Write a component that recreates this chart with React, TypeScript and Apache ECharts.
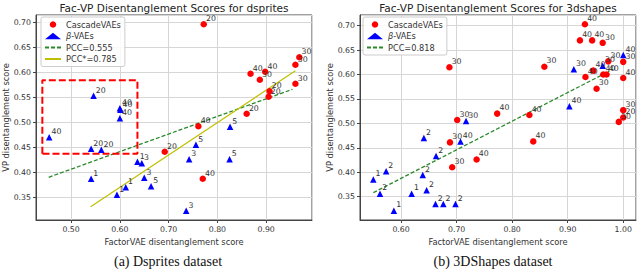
import React, { useEffect, useRef } from "react";
import * as echarts from "echarts";

// ---------- Data ----------
// [FactorVAE score, VP score, label]
const leftCascade: [number, number, string][] = [
  [0.772, 0.696, "20"],
  [0.968, 0.63, "30"],
  [0.96, 0.615, "30"],
  [0.868, 0.597, "40"],
  [0.898, 0.601, "40"],
  [0.887, 0.585, "30"],
  [0.96, 0.577, "30"],
  [0.907, 0.562, "20"],
  [0.905, 0.551, "20"],
  [0.86, 0.517, "20"],
  [0.761, 0.492, "40"],
  [0.692, 0.441, "20"],
  [0.77, 0.387, "40"],
];
const leftBeta: [number, number, string][] = [
  [0.546, 0.553, "20"],
  [0.6, 0.528, "40"],
  [0.601, 0.525, "40"],
  [0.6, 0.508, "40"],
  [0.455, 0.47, "40"],
  [0.541, 0.447, "20"],
  [0.562, 0.445, "20"],
  [0.636, 0.421, "1"],
  [0.645, 0.418, "3"],
  [0.541, 0.387, "1"],
  [0.612, 0.37, "1"],
  [0.594, 0.355, "1"],
  [0.65, 0.389, "3"],
  [0.664, 0.372, "5"],
  [0.742, 0.426, "3"],
  [0.756, 0.455, "5"],
  [0.825, 0.426, "5"],
  [0.736, 0.323, "3"],
  [0.826, 0.491, "5"],
];
const leftPcc: [number, number][] = [
  [0.454, 0.39],
  [0.954, 0.566],
];
const leftPccStar: [number, number][] = [
  [0.54, 0.331],
  [0.96, 0.603],
];
const boxX = [0.441, 0.636];
const boxY = [0.437, 0.584];

const rightCascade: [number, number, string][] = [
  [0.687, 0.615, "30"],
  [0.701, 0.507, "30"],
  [0.773, 0.52, "40"],
  [0.831, 0.517, "40"],
  [0.858, 0.616, "30"],
  [0.931, 0.703, "40"],
  [0.922, 0.67, "40"],
  [0.944, 0.67, "40"],
  [0.963, 0.665, "30"],
  [0.973, 0.627, "30"],
  [0.932, 0.595, "40"],
  [0.946, 0.608, "40"],
  [0.964, 0.6, "40"],
  [0.97, 0.6, "40"],
  [0.952, 0.571, "30"],
  [1.0, 0.626, "30"],
  [1.0, 0.593, "40"],
  [1.0, 0.527, "30"],
  [1.0, 0.512, "20"],
  [0.992, 0.503, "30"],
  [0.688, 0.461, "30"],
  [0.838, 0.463, "40"],
  [0.736, 0.426, "40"],
  [0.692, 0.41, "30"],
];
const rightBeta: [number, number, string][] = [
  [0.717, 0.505, "30"],
  [0.911, 0.611, "30"],
  [0.963, 0.618, "30"],
  [1.0, 0.64, "40"],
  [0.903, 0.535, "40"],
  [0.707, 0.463, "40"],
  [0.641, 0.47, "2"],
  [0.663, 0.433, "2"],
  [0.639, 0.394, "2"],
  [0.573, 0.402, "2"],
  [0.55, 0.385, "1"],
  [0.562, 0.356, "2"],
  [0.619, 0.356, "1"],
  [0.646, 0.363, "2"],
  [0.587, 0.321, "1"],
  [0.662, 0.335, "2"],
  [0.676, 0.335, "2"],
  [0.698, 0.335, "2"],
];
const rightPcc: [number, number][] = [
  [0.55, 0.358],
  [0.975, 0.607],
];

const titles = [
  "Fac-VP Disentanglement Scores for dsprites",
  "Fac-VP Disentanglement Scores for 3dshapes",
];
const captions = ["(a) Dsprites dataset", "(b) 3DShapes dataset"];
const xName = "FactorVAE disentanglement score";
const yName = "VP disentanglement score";

// ---------- Styling ----------
const FONT = "DejaVu Sans";
const FS = 7.8;
const NAME_FS = 8.3;
const LEG_FS = 8.2;
const RED = "#ff0000";
const BLUE = "#0000ff";
const GREEN = "#2a8a2a";
const YELLOW = "#bfbf00";
const AXIS = "#444";

const scatterLabel = {
  show: true,
  formatter: (p: any) => p.value[2],
  position: "right",
  distance: 0,
  offset: [-1, -5.8],
  fontSize: FS,
  fontFamily: FONT,
  color: "#333",
};

function axisLabel() {
  return {
    fontSize: FS,
    fontFamily: FONT,
    color: "#333",
    margin: 5,
    showMinLabel: false,
    showMaxLabel: false,
    formatter: (v: number) => v.toFixed(2),
  };
}

function makeX(idx: number, min: number, max: number) {
  return {
    type: "value",
    gridIndex: idx,
    min,
    max,
    splitNumber: 5,
    name: xName,
    nameLocation: "middle",
    nameGap: 14.5,
    nameTextStyle: { fontSize: NAME_FS, fontFamily: FONT, color: "#333" },
    axisLine: { show: true, lineStyle: { color: AXIS, width: 1 } },
    axisTick: { show: true, length: 3, lineStyle: { color: AXIS } },
    axisLabel: axisLabel(),
    splitLine: { show: true, lineStyle: { color: "#d6d6d6", width: 1 } },
  };
}
function makeY(idx: number, min: number, max: number) {
  return {
    type: "value",
    gridIndex: idx,
    min,
    max,
    splitNumber: 8,
    name: yName,
    nameLocation: "middle",
    nameGap: 25.5,
    nameTextStyle: { fontSize: NAME_FS, fontFamily: FONT, color: "#333" },
    axisLine: { show: true, lineStyle: { color: AXIS, width: 1 } },
    axisTick: { show: true, length: 3, lineStyle: { color: AXIS } },
    axisLabel: axisLabel(),
    splitLine: { show: true, lineStyle: { color: "#d6d6d6", width: 1 } },
  };
}

function scatter(name: string, data: any[], idx: number, color: string, symbol: string) {
  return {
    type: "scatter",
    name,
    xAxisIndex: idx,
    yAxisIndex: idx,
    data,
    symbol,
    symbolSize: 6.5,
    itemStyle: { color, opacity: 1 },
    label: scatterLabel,
    z: 3,
    silent: true,
  };
}
function line(name: string, data: any[], idx: number, color: string, type: any, width: number) {
  return {
    type: "line",
    name,
    xAxisIndex: idx,
    yAxisIndex: idx,
    data,
    symbol: "none",
    showSymbol: false,
    lineStyle: { color, type, width },
    itemStyle: { color },
    z: 2,
    silent: true,
  };
}

const hiddenDot = { color: "rgba(0,0,0,0)", borderWidth: 0, borderColor: "rgba(0,0,0,0)" };

function legend(left: number, names: string[]) {
  return {
    orient: "vertical",
    left,
    top: 17,
    data: names.map((n) =>
      n.startsWith("PCC") ? { name: n, itemStyle: hiddenDot } : { name: n }
    ),
    itemWidth: 16,
    itemHeight: 6.5,
    itemGap: 3.5,
    padding: [3.5, 4, 3.5, 3],
    backgroundColor: "rgba(255,255,255,0.85)",
    borderColor: "#cccccc",
    borderWidth: 1,
    borderRadius: 2,
    selectedMode: false,
    formatter: (n: string) => (n === "β-VAEs" ? "{i|β}-VAEs" : n),
    textStyle: {
      fontSize: LEG_FS,
      fontFamily: FONT,
      color: "#333",
      rich: { i: { fontStyle: "italic", fontSize: LEG_FS, fontFamily: FONT, color: "#333" } },
    },
  };
}

export default function App() {
  const ref = useRef<HTMLDivElement>(null);
  useEffect(() => {
    if (!ref.current) return;
    const chart = echarts.init(ref.current, undefined, { renderer: "svg" });
    const boxData = [
      [boxX[0], boxY[0]],
      [boxX[0], boxY[1]],
      [boxX[1], boxY[1]],
      [boxX[1], boxY[0]],
      [boxX[0], boxY[0]],
    ];
    chart.setOption({
      animation: false,
      backgroundColor: "#ffffff",
      grid: [
        { left: 36, top: 15, width: 276, height: 205, show: true, borderColor: AXIS, borderWidth: 1, backgroundColor: "transparent" },
        { left: 360, top: 15, width: 276, height: 205, show: true, borderColor: AXIS, borderWidth: 1, backgroundColor: "transparent" },
      ],
      xAxis: [makeX(0, 0.428, 0.994), makeX(1, 0.526, 1.023)],
      yAxis: [makeY(0, 0.3046, 0.7146), makeY(1, 0.302, 0.722)],
      legend: [
        legend(41, ["CascadeVAEs", "β-VAEs", "PCC=0.555", "PCC*=0.785"]),
        legend(363, ["CascadeVAEs", "β-VAEs", "PCC=0.818"]),
      ],
      series: [
        scatter("CascadeVAEs", leftCascade, 0, RED, "circle"),
        scatter("β-VAEs", leftBeta, 0, BLUE, "triangle"),
        line("PCC=0.555", leftPcc, 0, GREEN, [4, 2], 1.3),
        line("PCC*=0.785", leftPccStar, 0, YELLOW, "solid", 1.2),
        line("box", boxData, 0, RED, [7, 3], 2),
        scatter("CascadeVAEs", rightCascade, 1, RED, "circle"),
        scatter("β-VAEs", rightBeta, 1, BLUE, "triangle"),
        line("PCC=0.818", rightPcc, 1, GREEN, [4, 2], 1.3),
      ],
      graphic: [
        ...titles.map((t, i) => ({
          type: "text",
          x: i === 0 ? 174 : 498,
          y: 7.5,
          style: {
            text: t,
            fill: "#222",
            fontSize: 10.5,
            fontFamily: FONT,
            textAlign: "center",
            textVerticalAlign: "middle",
            align: "center",
            verticalAlign: "middle",
          },
        })),
        ...captions.map((t, i) => ({
          type: "text",
          x: i === 0 ? 168 : 493,
          y: 261,
          style: {
            text: t,
            fill: "#111",
            fontSize: 14,
            fontFamily: "Liberation Serif",
            textAlign: "center",
            textVerticalAlign: "middle",
            align: "center",
            verticalAlign: "middle",
          },
        })),
      ],
    });
    return () => chart.dispose();
  }, []);
  return (
    <div
      ref={ref}
      style={{ position: "absolute", left: 0, top: 0, width: 640, height: 269 }}
    />
  );
}
